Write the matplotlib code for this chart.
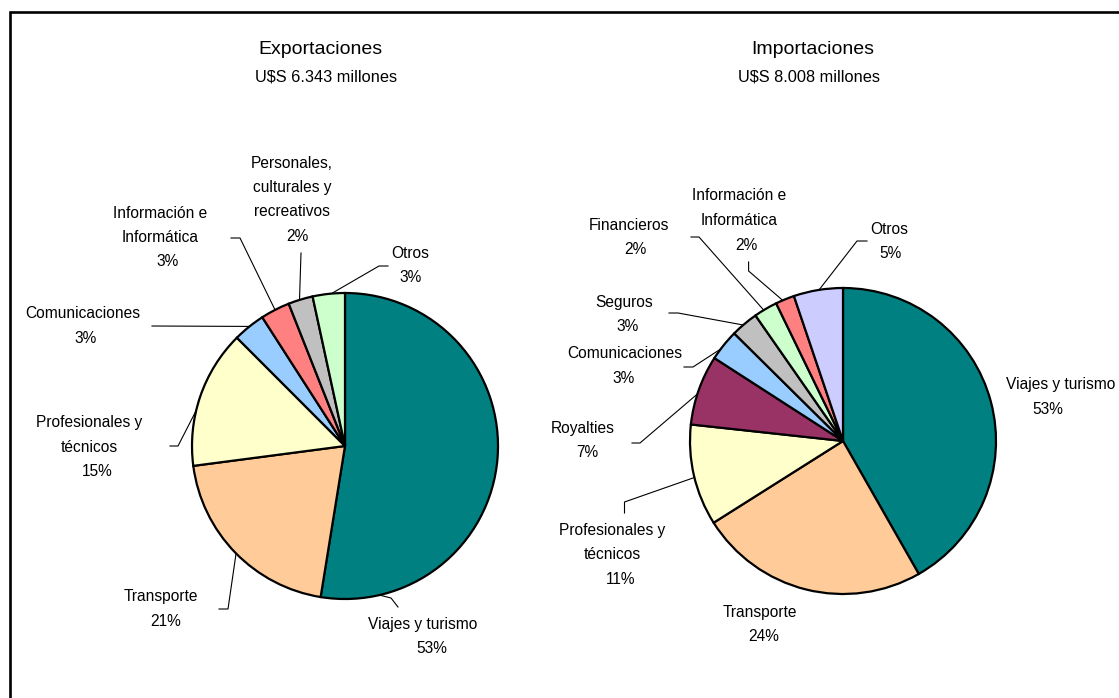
import matplotlib
matplotlib.use("Agg")
import matplotlib.pyplot as plt
from matplotlib.patches import Rectangle
import numpy as np

plt.rcParams['font.family'] = ['Liberation Sans', 'DejaVu Sans']

W, H = 1119, 698

# --- datos: Exportaciones ---
exp_cats = ["Viajes y turismo", "Transporte", "Profesionales y\ntécnicos", "Comunicaciones",
            "Información e\nInformática", "Personales,\nculturales y\nrecreativos", "Otros"]
exp_vals = [52.6, 20.4, 14.6, 3.4, 3.1, 2.6, 3.4]
exp_pct = ["53%", "21%", "15%", "3%", "3%", "2%", "3%"]

# --- datos: Importaciones ---
imp_cats = ["Viajes y turismo", "Transporte", "Profesionales y\ntécnicos", "Royalties",
            "Comunicaciones", "Seguros", "Financieros", "Información e\nInformática", "Otros"]
imp_vals = [41.8, 24.3, 10.7, 7.4, 3.3, 2.9, 2.5, 2.0, 5.2]
imp_pct = ["53%", "24%", "11%", "7%", "3%", "3%", "2%", "2%", "5%"]

exp_title = ["Exportaciones", "U$S 6.343 millones"]
imp_title = ["Importaciones", "U$S 8.008 millones"]

# colores
teal, peach, yellow = "#008080", "#FFCC99", "#FFFFCC"
blue, salmon, gray = "#99CCFF", "#FF8080", "#C0C0C0"
green, plum, lav = "#CCFFCC", "#993366", "#CCCCFF"
exp_colors = [teal, peach, yellow, blue, salmon, gray, green]
imp_colors = [teal, peach, yellow, plum, blue, gray, green, salmon, lav]

# layout (pixeles de la imagen, y hacia abajo)
R = 153
exp_center = (345, 446)
imp_center = (843, 441)

exp_name_x = [423, 161, 89, 83, 160, 292, 410]
exp_pct_x = [432, 166, 97, 86, 168, 297, 411]
exp_first_y = [624, 597, 423, 314, 213, 163, 253]
exp_leaders = [(-77, [(398, 607), (391, 598)]),
               (224.6, [(219, 609), (228, 609)]),
               (166.6, [(170, 446), (178, 446)]),
               (128.6, [(152, 326)]),
               (117.2, [(231, 238), (240, 238)]),
               (107.3, [(301, 253)]),
               (95.1, [(388, 266), (379, 266)])]

imp_name_x = [1061, 760, 612, 583, 625, 624, 629, 739, 889]
imp_pct_x = [1048, 764, 621, 587, 624, 628, 635, 746, 890]
imp_first_y = [385, 612, 530, 428, 354, 302, 225, 196, 229]
imp_leaders = [None,
               None,
               (193.8, [(624.5, 513), (624.5, 502)]),
               (162.1, [(632, 443), (640, 443)]),
               (143.0, [(684, 367), (693, 367)]),
               (130.7, [(669, 313), (678, 313)]),
               (121.2, [(691, 237), (699, 237)]),
               (113.2, [(748.6, 262), (748.6, 271)]),
               (99.0, [(867, 241), (857, 241)])]

STEP = 24.5
FS = 11.2

fig = plt.figure(figsize=(W / 100, H / 100), dpi=100)
ax = fig.add_axes([0, 0, 1, 1])


def draw_pie(vals, colors, center, cats, pct, name_x, pct_x, first_y, leaders, title, tx):
    cx, cy = center
    ax.pie(vals, colors=colors, startangle=90, counterclock=False,
           center=(cx, H - cy), radius=R,
           wedgeprops=dict(edgecolor="black", linewidth=1.6))
    for i, cat in enumerate(cats):
        lines = cat.split("\n")
        for j, ln in enumerate(lines):
            ax.text(name_x[i], H - (first_y[i] + j * STEP), ln, ha="center", va="center",
                    fontsize=FS)
        ax.text(pct_x[i], H - (first_y[i] + len(lines) * STEP), pct[i], ha="center",
                va="center", fontsize=FS)
        if leaders[i] is not None:
            ang, pts = leaders[i]
            a = np.radians(ang)
            px = [p[0] for p in pts] + [cx + R * np.cos(a)]
            py = [H - p[1] for p in pts] + [H - cy + R * np.sin(a)]
            ax.plot(px, py, color="black", linewidth=0.8)
    ax.text(tx[0], H - 50, title[0], ha="center", va="center", fontsize=14)
    ax.text(tx[1], H - 77, title[1], ha="center", va="center", fontsize=11.8)


draw_pie(exp_vals, exp_colors, exp_center, exp_cats, exp_pct, exp_name_x, exp_pct_x,
         exp_first_y, exp_leaders, exp_title, (320, 326))
draw_pie(imp_vals, imp_colors, imp_center, imp_cats, imp_pct, imp_name_x, imp_pct_x,
         imp_first_y, imp_leaders, imp_title, (813, 809))

# marco (cortado a la derecha y abajo)
ax.add_patch(Rectangle((10, -20), 1200, H - 12 + 20, fill=False, edgecolor="black",
                       linewidth=1.9))

ax.set_xlim(0, W)
ax.set_ylim(0, H)
ax.set_aspect("equal")
ax.axis("off")

fig.savefig("out.png", dpi=100, facecolor="white")
